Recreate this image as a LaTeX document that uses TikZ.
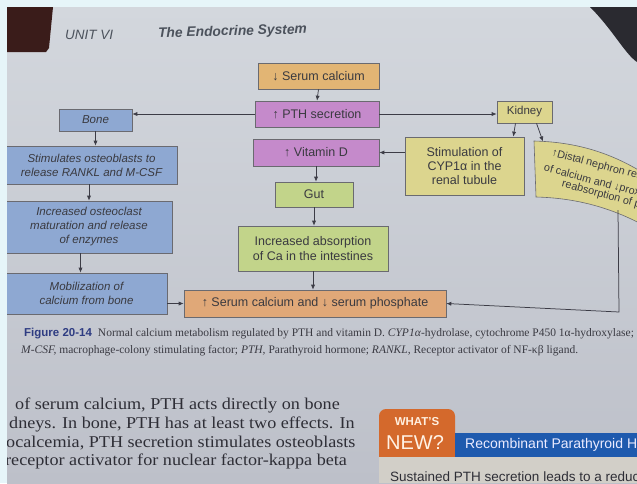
\documentclass[tikz,border=0pt]{standalone}
\usepackage{fontspec}
\setmainfont{Liberation Serif}
\setsansfont{Liberation Sans}
\usetikzlibrary{arrows.meta}
\definecolor{frame}{HTML}{E6F5F9}
\definecolor{pagetop}{HTML}{D3D7DD}
\definecolor{pagebot}{HTML}{BDC0C9}
\definecolor{darkred}{HTML}{3A1C1A}
\definecolor{darkcorner}{HTML}{2A2A30}
\definecolor{boxline}{HTML}{6A6A70}
\definecolor{txt}{HTML}{3A3A40}
\definecolor{arrc}{HTML}{3C3C46}
\definecolor{orangef}{HTML}{E2B574}
\definecolor{salmonf}{HTML}{E0A878}
\definecolor{purplef}{HTML}{C58ACB}
\definecolor{bluef}{HTML}{8EA8D2}
\definecolor{yellowf}{HTML}{DCD58E}
\definecolor{greenf}{HTML}{C2D48A}
\definecolor{figblue}{HTML}{2E3C82}
\definecolor{captxt}{HTML}{3A3A42}
\definecolor{bodytxt}{HTML}{2E2E36}
\definecolor{headtxt}{HTML}{4C525C}
\definecolor{whatorange}{HTML}{D4692C}
\definecolor{whatblue}{HTML}{1E5AAE}
\definecolor{beige}{HTML}{D2CFC8}
\begin{document}
\begin{tikzpicture}[x=1pt,y=-1pt,
  box/.style={draw=boxline, line width=0.6pt, text=txt, align=center, inner sep=1pt,
    font=\sffamily\fontsize{12.5}{14.5}\selectfont},
  lbox/.style={box, fill=bluef, font=\sffamily\itshape\fontsize{11.5}{14}\selectfont},
  arr/.style={draw=arrc, line width=0.75pt, -{Latex[length=5pt,width=4.2pt]}},
  lbl/.style={inner sep=0pt, anchor=west},
  bodyline/.style={lbl, font=\fontsize{16.5}{18}\selectfont, text=bodytxt},
  distline/.style={lbl, font=\sffamily\fontsize{10.8}{12}\selectfont, text=txt, rotate=-15}
]
\useasboundingbox (0,0) rectangle (637,483);
% page
\fill[frame] (0,0) rectangle (637,483);
\shade[top color=pagetop, bottom color=pagebot] (7,7) rectangle (637,483);
\fill[darkred] (7,7) -- (53,7) -- (49,48) -- (46,52) -- (7,52) -- cycle;
\fill[darkcorner] (590,7) -- (637,7) -- (637,62) .. controls (625,54) and (613,30) .. cycle;

% header
\node[lbl, font=\sffamily\itshape\fontsize{13.5}{15}\selectfont, text=headtxt] (unit) at (65,35) {UNIT VI};
\node[lbl, font=\sffamily\bfseries\itshape\fontsize{13.8}{15}\selectfont, text=headtxt, rotate=1.5] (title) at (158,34) {The Endocrine System};

% central column
\node[box, fill=orangef, minimum width=121, minimum height=26] (sca) at (318.5,76) {↓ Serum calcium};
\node[box, fill=purplef, minimum width=124, minimum height=26] (pth) at (317,114) {↑ PTH secretion};
\node[box, fill=purplef, minimum width=126, minimum height=27] (vitd) at (316,152.5) {↑ Vitamin D};
\node[box, fill=greenf, minimum width=78, minimum height=25] (gut) at (314,194.5) {Gut};
\node[box, fill=greenf, minimum width=150, minimum height=45] (abs) at (313,248.5) {Increased absorption\\of Ca in the intestines};
\node[box, fill=salmonf, minimum width=262, minimum height=27] (scp) at (315,303.5) {↑ Serum calcium and ↓ serum phosphate};

% left column
\node[box, fill=bluef, minimum width=73, minimum height=22, font=\sffamily\itshape\fontsize{11.5}{14}\selectfont] (bone) at (95.5,120) {Bone};
\node[lbox, minimum width=171, minimum height=38] (stim) at (91.5,165) {Stimulates osteoblasts to\\release RANKL and M-CSF};
\node[lbox, minimum width=166, minimum height=52] (ostc) at (89,227) {Increased osteoclast\\maturation and release\\of enzymes};
\node[lbox, minimum width=161, minimum height=41] (mob) at (86.5,293.5) {Mobilization of\\calcium from bone};

% right column
\node[box, fill=yellowf, minimum width=55, minimum height=22, font=\sffamily\fontsize{11.5}{14}\selectfont] (kid) at (524.5,112) {Kidney};
\node[box, fill=yellowf, minimum width=119, minimum height=58, font=\sffamily\fontsize{12.5}{14}\selectfont] (cyp) at (464.5,166) {Stimulation of\\CYP1α in the\\renal tubule};

% distal nephron box (curved by the page)
\fill[yellowf] (534,141) .. controls (575,142) and (610,152) .. (645,174) -- (645,226)
  .. controls (610,207) and (575,198) .. (536,197) -- cycle;
\draw[boxline, line width=0.6pt] (645,174) .. controls (610,152) and (575,142) .. (534,141)
  -- (536,197) .. controls (575,198) and (610,207) .. (645,226);
\begin{scope}
\clip (534,141) .. controls (575,142) and (610,152) .. (645,174) -- (645,226)
  .. controls (610,207) and (575,198) .. (536,197) -- cycle;
\node[distline] (d1) at (552,153) {↑Distal nephron reabsorption};
\node[distline] (d2) at (544,168) {of calcium and ↓proximal};
\node[distline] (d3) at (562,184) {reabsorption of phosphate};
\end{scope}
\coordinate (dtop) at (543,141.5);
\coordinate (dbot) at (618,210);
\coordinate (dcorner) at (619,312);

% connectors
\draw[arr] (sca.south) -- (pth.north);
\draw[arr] (pth.west) -- (pth.west -| bone.east);
\draw[arr] (pth.east) -- (pth.east -| kid.west);
\draw[arr] ([xshift=-9pt]kid.south) -- ([xshift=-11pt]cyp.north east);
\draw[arr] ([xshift=12pt]kid.south) -- (dtop);
\draw[arr] (cyp.west |- vitd.east) -- (vitd.east);
\draw[arr] (vitd.south) -- (vitd.south |- gut.north);
\draw[arr] (gut.south) -- (gut.south |- abs.north);
\draw[arr] (abs.south) -- (abs.south |- scp.north);
\draw[arr] (bone.south) -- (bone.south |- stim.north);
\draw[arr] (ostc.north |- stim.south) -- (ostc.north);
\draw[arr] ([xshift=-6pt]mob.north |- ostc.south) -- ([xshift=-6pt]mob.north);
\draw[arr] (mob.east |- scp.west) -- (scp.west);
\draw[arr] (dbot) -- (dcorner) -- (scp.east);

% caption
\node[lbl, font=\fontsize{11.5}{13}\selectfont, text=captxt] (cap1) at (24,334)
  {{\sffamily\bfseries\color{figblue}Figure 20-14}\hspace{6pt}Normal calcium metabolism regulated by PTH and vitamin D. \textit{CYP1α}-hydrolase, cytochrome P450 1α-hydroxylase;};
\node[lbl, font=\fontsize{11.5}{13}\selectfont, text=captxt] (cap2) at (21,351)
  {\textit{M-CSF,} macrophage-colony stimulating factor; \textit{PTH,} Parathyroid hormone; \textit{RANKL,} Receptor activator of NF-κβ ligand.};

% body text
\node[bodyline] (b1) at (15,405) {\scalebox{1.1}[1]{of serum calcium, PTH acts directly on bone}};
\node[bodyline] (b2) at (9,424) {\scalebox{1.1}[1]{dneys. In bone, PTH has at least two effects. In}};
\node[bodyline] (b3) at (6,443) {\scalebox{1.1}[1]{ocalcemia, PTH secretion stimulates osteoblasts}};
\node[bodyline] (b4) at (5,461) {\scalebox{1.1}[1]{receptor activator for nuclear factor-kappa beta}};

% what's new box
\fill[whatorange, rounded corners=7pt] (379,409) rectangle (455,470);
\fill[beige] (379,457) rectangle (637,483);
\fill[whatblue] (455,433) rectangle (637,457);
\node[font=\sffamily\bfseries\fontsize{11.5}{12}\selectfont, text=white!88!orange, inner sep=0pt] (what) at (417,422) {WHAT'S};
\node[font=\sffamily\fontsize{20}{21}\selectfont, text=white!90!orange, inner sep=0pt] (new) at (415,443) {NEW?};
\node[lbl, font=\sffamily\fontsize{14}{15}\selectfont, text=white!92!blue] (rec) at (465,445) {Recombinant Parathyroid Hormone};
\node[lbl, font=\sffamily\fontsize{13.5}{15}\selectfont, text=bodytxt] (sus) at (390,477) {Sustained PTH secretion leads to a reduction};
% frame on top
\fill[frame] (0,0) rectangle (7,483);
\fill[frame] (0,0) rectangle (637,7);
\end{tikzpicture}
\end{document}
